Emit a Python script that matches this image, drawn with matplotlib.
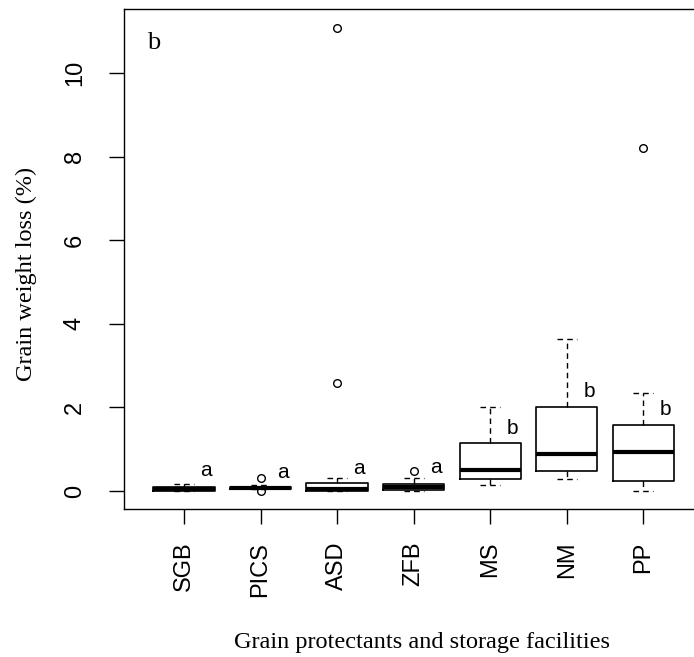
import numpy as np
import matplotlib
matplotlib.use("Agg")
import matplotlib.pyplot as plt

# Data (grain weight loss, %)
groups = ["SGB", "PICS", "ASD", "ZFB", "MS", "NM", "PP"]
q1 = [0.00, 0.05, 0.00, 0.02, 0.28, 0.48, 0.24]
med = [0.05, 0.08, 0.06, 0.10, 0.50, 0.89, 0.94]
q3 = [0.10, 0.10, 0.19, 0.17, 1.14, 2.01, 1.58]
whislo = [0.00, 0.05, 0.00, 0.00, 0.14, 0.29, 0.00]
whishi = [0.17, 0.15, 0.30, 0.30, 2.02, 3.63, 2.34]
fliers = [[], [0.31, 0.0], [2.58, 11.08], [0.48], [], [], [8.2]]

# significance letters next to each box
letters = ["a", "a", "a", "a", "b", "b", "b"]
letter_y = [0.50, 0.45, 0.53, 0.57, 1.50, 2.39, 1.94]


def make_plot():
    plt.rcParams.update({
        "font.family": "Liberation Sans",
        "axes.linewidth": 1.0,
    })

    fig = plt.figure(figsize=(6.94, 6.57), dpi=100)
    # plot region extends past the right edge, as in the cropped original
    ax = fig.add_axes([124 / 694, 148 / 657, 596 / 694, 500 / 657])

    stats = []
    for i, g in enumerate(groups):
        stats.append({
            "label": g, "q1": q1[i], "med": med[i], "q3": q3[i],
            "whislo": whislo[i], "whishi": whishi[i], "fliers": fliers[i],
        })

    pos = np.arange(1, len(groups) + 1)
    ax.bxp(stats, positions=pos, widths=0.8, capwidths=0.26,
           boxprops=dict(color="black", linewidth=1.2),
           medianprops=dict(color="black", linewidth=3.0, solid_capstyle="butt"),
           whiskerprops=dict(color="black", linewidth=1.0, linestyle=(0, (4, 3))),
           capprops=dict(color="black", linewidth=1.0, linestyle=(0, (4, 3))),
           flierprops=dict(marker="o", markerfacecolor="none",
                           markeredgecolor="black", markersize=5.5,
                           markeredgewidth=1.0))

    for i, (lt, ly) in enumerate(zip(letters, letter_y)):
        ax.text(pos[i] + 0.29, ly, lt, ha="center", va="center", fontsize=15)

    ax.text(0.61, 10.72, "b", ha="center", va="center", fontsize=19,
            family="Liberation Serif")

    ax.set_xlim(0.217, 8.0)
    ax.set_ylim(-0.43, 11.53)
    ax.set_xticks(pos)
    ax.set_xticklabels(groups, rotation=90, fontsize=17)
    ax.set_yticks([0, 2, 4, 6, 8, 10])
    ax.set_yticklabels(["0", "2", "4", "6", "8", "10"], rotation=90,
                       va="center", fontsize=17)
    ax.tick_params(axis="both", length=10.5, width=1.0, direction="out")
    ax.tick_params(axis="y", pad=17)
    ax.tick_params(axis="x", pad=13)
    ax.spines["right"].set_visible(False)

    ax.set_xlabel("Grain protectants and storage facilities",
                  family="Liberation Serif", fontsize=17.5)
    ax.set_ylabel("Grain weight loss (%)", family="Liberation Serif",
                  fontsize=17.5)
    ax.xaxis.set_label_coords(0.5, -0.246)
    ax.yaxis.set_label_coords(-0.146, 0.47)

    fig.savefig("out.png", dpi=100)
    plt.close(fig)


if __name__ == "__main__":
    make_plot()
